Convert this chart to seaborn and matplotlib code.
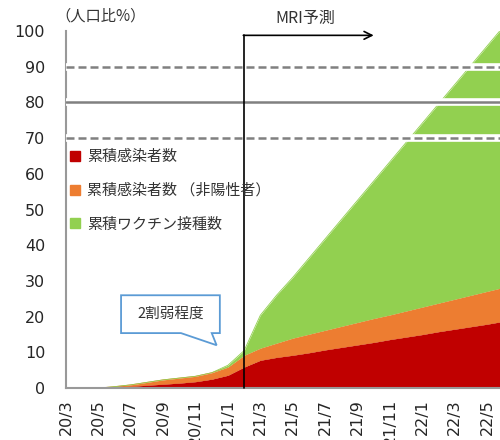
import matplotlib
matplotlib.use("Agg")
import matplotlib.pyplot as plt
from matplotlib.lines import Line2D
from matplotlib.patches import Polygon
import numpy as np
import pandas as pd
import seaborn as sns

# Month labels (yy/m) from 2020/3 to 2022/6
months = ["20/3", "20/4", "20/5", "20/6", "20/7", "20/8", "20/9", "20/10",
          "20/11", "20/12", "21/1", "21/2", "21/3", "21/4", "21/5", "21/6",
          "21/7", "21/8", "21/9", "21/10", "21/11", "21/12", "22/1", "22/2",
          "22/3", "22/4", "22/5", "22/6"]

# Cumulative shares of the population (%), stacked components
infected = [0, 0, 0, 0.2, 0.5, 0.8, 1.1, 1.4, 1.8, 2.5, 3.6, 5.9, 7.8, 8.6,
            9.2, 9.9, 10.7, 11.4, 12.1, 12.8, 13.6, 14.3, 15.0, 15.8, 16.5,
            17.2, 17.9, 18.7]
non_positive = [0, 0, 0, 0.2, 0.4, 0.8, 1.2, 1.4, 1.5, 1.8, 2.3, 3.3, 3.4,
                4.0, 4.8, 5.2, 5.5, 5.9, 6.3, 6.7, 6.9, 7.3, 7.7, 8.0, 8.4,
                8.8, 9.2, 9.5]
vaccinated = [0, 0, 0, 0, 0, 0, 0, 0, 0, 0, 0.5, 1.3, 9.2, 13.4, 17.0, 21.3,
              25.6, 29.9, 34.2, 38.5, 42.9, 47.2, 51.5, 55.8, 60.1, 64.4,
              68.7, 73.0]

series_names = ["累積感染者数", "累積感染者数 （非陽性者）", "累積ワクチン接種数"]
series_colors = ["#C00000", "#ED7D31", "#92D050"]
forecast_start = "21/2"

sns.set_theme(style="white")
plt.rcParams["font.family"] = ["DejaVu Sans", "Noto Sans CJK JP"]
jp = ["Noto Sans CJK JP", "DejaVu Sans"]

df = pd.DataFrame({"month": months, "infected": infected,
                   "non_positive": non_positive, "vaccinated": vaccinated})
df["m"] = np.arange(len(df))
df["top1"] = df["infected"]
df["top2"] = df["top1"] + df["non_positive"]
df["top3"] = df["top2"] + df["vaccinated"]

fig = plt.figure(figsize=(5.0, 4.4), dpi=100)
ax = fig.add_axes([0.132, 0.118, 0.868, 0.8114])

lows = [np.zeros(len(df)), df["top1"], df["top2"]]
highs = [df["top1"], df["top2"], df["top3"]]
for lo, hi, c in zip(lows, highs, series_colors):
    ax.fill_between(df["m"], lo, hi, color=c, linewidth=0, zorder=2)
    sns.lineplot(x=df["m"], y=hi, color=c, lw=0.6, ax=ax, zorder=2)

# Reference levels, each on a white band
for lvl, ls in [(70, (0, (3.2, 1.6))), (80, "-"), (90, (0, (3.2, 1.6)))]:
    ax.axhline(lvl, color="white", lw=5.5, zorder=3.5)
    ax.axhline(lvl, color="#808080", lw=1.8, ls=ls, zorder=4)

ax.set_xlim(0, 26.8)
ax.set_ylim(0, 100)
ax.set_yticks(range(0, 101, 10))
ax.set_xticks(df["m"][::2])
ax.set_xticklabels(df["month"][::2], rotation=90)
ax.set_xlabel("")
ax.set_ylabel("")
ax.tick_params(axis="both", which="both", direction="out", length=5,
               width=1.3, color="#999999", labelsize=11.5,
               labelcolor="#262626", pad=3)
ax.tick_params(axis="y", pad=10)
sns.despine(ax=ax, top=True, right=True)
for s in ["left", "bottom"]:
    ax.spines[s].set_color("#999999")
    ax.spines[s].set_linewidth(1.5)

# Forecast start marker and arrow
xf = months.index(forecast_start)
ax.plot([xf, xf], [0, 98.8], color="black", lw=1.2, zorder=5, clip_on=False)
ax.annotate("", xy=(19.0, 98.8), xytext=(xf - 0.05, 98.8),
            arrowprops=dict(arrowstyle="->", color="black", lw=1.2,
                            mutation_scale=14, shrinkA=0, shrinkB=0),
            annotation_clip=False, zorder=5)
ax.text(14.75, 103.4, "MRI予測", ha="center", va="center", fontsize=11.5,
        color="#333333", family=jp, clip_on=False)

ax.text(-0.65, 104.3, "（人口比%）", ha="left", va="center", fontsize=11,
        color="#333333", family=jp, clip_on=False)

# Callout bubble
bubble = Polygon([(3.4, 26.0), (9.5, 26.0), (9.5, 15.4), (9.0, 15.4),
                  (9.3, 12.0), (7.1, 15.4), (3.4, 15.4)],
                 closed=True, facecolor="white", edgecolor="#5B9BD5",
                 lw=1.3, zorder=6)
ax.add_patch(bubble)
ax.text(6.45, 20.7, "2割弱程度", ha="center", va="center", fontsize=10.5,
        color="#333333", family=jp, zorder=7)

handles = [Line2D([0], [0], marker="s", ls="none", markersize=6.5,
                  markerfacecolor=c, markeredgecolor=c)
           for c in series_colors]
leg = ax.legend(handles, series_names, loc="upper left",
                bbox_to_anchor=(0.138, 0.66), bbox_transform=fig.transFigure,
                frameon=False, borderpad=0, borderaxespad=0,
                handlelength=0.8, handletextpad=0.4, labelspacing=1.3,
                prop={"family": jp, "size": 10.8})
for t in leg.get_texts():
    t.set_color("#333333")
leg.set_zorder(8)

fig.savefig("out.png", dpi=100)
